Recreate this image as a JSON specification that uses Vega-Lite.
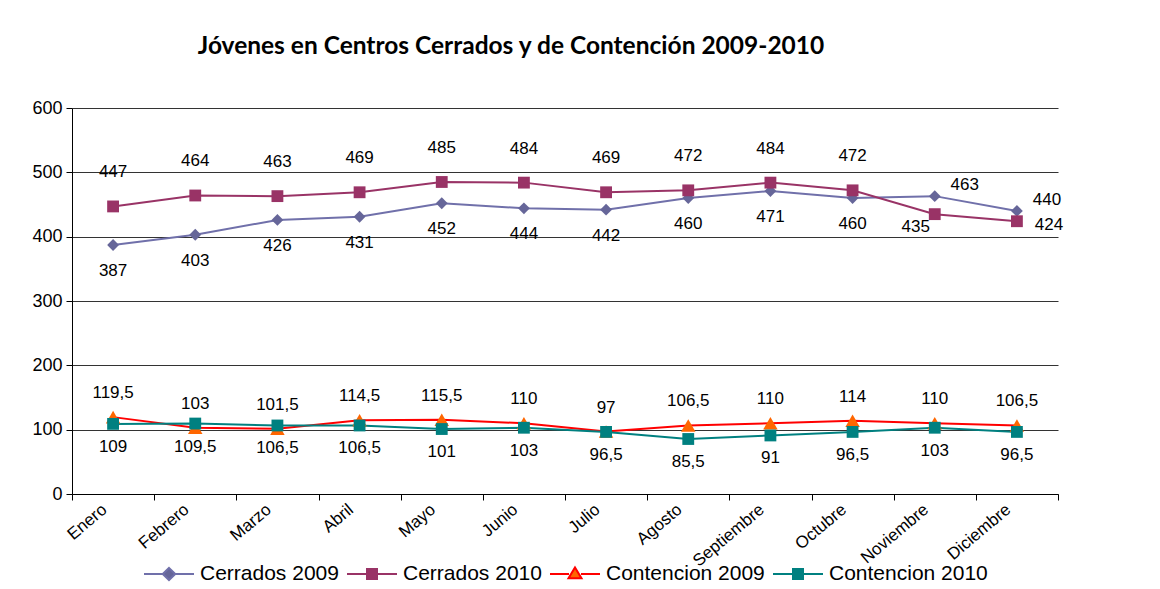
{
  "$schema": "https://vega.github.io/schema/vega-lite/v6.json",
  "width": 986,
  "height": 386,
  "autosize": {"type": "none"},
  "padding": {"left": 72, "top": 108, "right": 102, "bottom": 95},
  "background": "white",
  "title": {"text": "Jóvenes en Centros Cerrados y de Contención 2009-2010", "font": "Lato", "fontSize": 24.5, "fontWeight": "bold", "color": "black", "anchor": "middle", "dx": -54, "offset": 40},
  "data": {"values": [
    {"mes": "Enero", "serie": "Cerrados 2009", "valor": 387},
    {"mes": "Febrero", "serie": "Cerrados 2009", "valor": 403},
    {"mes": "Marzo", "serie": "Cerrados 2009", "valor": 426},
    {"mes": "Abril", "serie": "Cerrados 2009", "valor": 431},
    {"mes": "Mayo", "serie": "Cerrados 2009", "valor": 452},
    {"mes": "Junio", "serie": "Cerrados 2009", "valor": 444},
    {"mes": "Julio", "serie": "Cerrados 2009", "valor": 442},
    {"mes": "Agosto", "serie": "Cerrados 2009", "valor": 460},
    {"mes": "Septiembre", "serie": "Cerrados 2009", "valor": 471},
    {"mes": "Octubre", "serie": "Cerrados 2009", "valor": 460},
    {"mes": "Noviembre", "serie": "Cerrados 2009", "valor": 463},
    {"mes": "Diciembre", "serie": "Cerrados 2009", "valor": 440},
    {"mes": "Enero", "serie": "Cerrados 2010", "valor": 447},
    {"mes": "Febrero", "serie": "Cerrados 2010", "valor": 464},
    {"mes": "Marzo", "serie": "Cerrados 2010", "valor": 463},
    {"mes": "Abril", "serie": "Cerrados 2010", "valor": 469},
    {"mes": "Mayo", "serie": "Cerrados 2010", "valor": 485},
    {"mes": "Junio", "serie": "Cerrados 2010", "valor": 484},
    {"mes": "Julio", "serie": "Cerrados 2010", "valor": 469},
    {"mes": "Agosto", "serie": "Cerrados 2010", "valor": 472},
    {"mes": "Septiembre", "serie": "Cerrados 2010", "valor": 484},
    {"mes": "Octubre", "serie": "Cerrados 2010", "valor": 472},
    {"mes": "Noviembre", "serie": "Cerrados 2010", "valor": 435},
    {"mes": "Diciembre", "serie": "Cerrados 2010", "valor": 424},
    {"mes": "Enero", "serie": "Contencion 2009", "valor": 119.5},
    {"mes": "Febrero", "serie": "Contencion 2009", "valor": 103},
    {"mes": "Marzo", "serie": "Contencion 2009", "valor": 101.5},
    {"mes": "Abril", "serie": "Contencion 2009", "valor": 114.5},
    {"mes": "Mayo", "serie": "Contencion 2009", "valor": 115.5},
    {"mes": "Junio", "serie": "Contencion 2009", "valor": 110},
    {"mes": "Julio", "serie": "Contencion 2009", "valor": 97},
    {"mes": "Agosto", "serie": "Contencion 2009", "valor": 106.5},
    {"mes": "Septiembre", "serie": "Contencion 2009", "valor": 110},
    {"mes": "Octubre", "serie": "Contencion 2009", "valor": 114},
    {"mes": "Noviembre", "serie": "Contencion 2009", "valor": 110},
    {"mes": "Diciembre", "serie": "Contencion 2009", "valor": 106.5},
    {"mes": "Enero", "serie": "Contencion 2010", "valor": 109},
    {"mes": "Febrero", "serie": "Contencion 2010", "valor": 109.5},
    {"mes": "Marzo", "serie": "Contencion 2010", "valor": 106.5},
    {"mes": "Abril", "serie": "Contencion 2010", "valor": 106.5},
    {"mes": "Mayo", "serie": "Contencion 2010", "valor": 101},
    {"mes": "Junio", "serie": "Contencion 2010", "valor": 103},
    {"mes": "Julio", "serie": "Contencion 2010", "valor": 96.5},
    {"mes": "Agosto", "serie": "Contencion 2010", "valor": 85.5},
    {"mes": "Septiembre", "serie": "Contencion 2010", "valor": 91},
    {"mes": "Octubre", "serie": "Contencion 2010", "valor": 96.5},
    {"mes": "Noviembre", "serie": "Contencion 2010", "valor": 103},
    {"mes": "Diciembre", "serie": "Contencion 2010", "valor": 96.5}
  ]},
  "encoding": {
    "x": {
      "field": "mes", "type": "ordinal",
      "sort": ["Enero","Febrero","Marzo","Abril","Mayo","Junio","Julio","Agosto","Septiembre","Octubre","Noviembre","Diciembre"],
      "scale": {"type": "band", "paddingInner": 0, "paddingOuter": 0},
      "axis": {"title": null, "grid": false, "tickBand": "extent", "labelAngle": -40, "labelAlign": "right", "labelBaseline": "top", "labelPadding": 1, "labelOffset": -14, "labelFont": "Liberation Sans", "labelFontSize": 17, "labelColor": "black", "domainColor": "black", "tickColor": "black", "tickSize": 6, "labelOverlap": false}
    },
    "y": {
      "field": "valor", "type": "quantitative",
      "scale": {"domain": [0, 600]},
      "axis": {"title": null, "values": [0,100,200,300,400,500,600], "grid": true, "gridColor": "#333333", "labelFont": "Liberation Sans", "labelFontSize": 18, "labelColor": "black", "domainColor": "black", "tickColor": "black", "tickSize": 6, "labelPadding": 4}
    }
  },
  "layer": [
    {
      "mark": {"type": "line", "strokeWidth": 2},
      "encoding": {
        "color": {"field": "serie", "type": "nominal", "scale": {"domain": ["Cerrados 2009","Cerrados 2010","Contencion 2009","Contencion 2010"], "range": ["#7070AA","#993366","#FF0000","#008080"]}, "legend": null}
      }
    },
    {
      "mark": {"type": "point", "filled": true, "strokeWidth": 0, "opacity": 1},
      "encoding": {
        "fill": {"field": "serie", "type": "nominal", "scale": {"domain": ["Cerrados 2009","Cerrados 2010","Contencion 2009","Contencion 2010"], "range": ["#666699","#993366","#FF6600","#008080"]}, "legend": null},
        "shape": {"condition": [{"test": "datum.serie === 'Cerrados 2009'", "value": "diamond"}, {"test": "datum.serie === 'Contencion 2009'", "value": "triangle-up"}], "value": "square"},
        "size": {"condition": {"test": "datum.serie === 'Contencion 2009'", "value": 210}, "value": 140}
      }
    },
    {
      "mark": {"type": "point", "filled": true, "opacity": 0},
      "encoding": {
        "color": {"field": "serie", "type": "nominal", "legend": null},
        "shape": {
          "field": "serie", "type": "nominal",
          "scale": {"range": ["M-1,0L-0.25,0M0.25,0L1,0M0,-0.24L0.25,0L0,0.24L-0.25,0Z",
                              "M-1,0L-0.2,0M0.2,0L1,0M-0.2,-0.2L0.2,-0.2L0.2,0.2L-0.2,0.2Z",
                              "M-1,0L-0.24,0M0.24,0L1,0M0,-0.26L0.26,0.17L-0.26,0.17Z",
                              "M-1,0L-0.2,0M0.2,0L1,0M-0.2,-0.2L0.2,-0.2L0.2,0.2L-0.2,0.2Z"]},
          "legend": {
            "orient": "none", "legendX": 71, "legendY": 440, "direction": "horizontal", "columns": 4, "title": null,
            "symbolSize": 2500, "symbolOpacity": 1, "symbolStrokeWidth": 2,
            "symbolFillColor": {"expr": "scale('fill', datum.value)"},
            "symbolStrokeColor": {"expr": "scale('color', datum.value)"},
            "labelFont": "Liberation Sans", "labelFontSize": 21, "labelColor": "black", "labelOffset": 5, "columnPadding": 4
          }
        }
      }
    },
    {
      "transform": [{"filter": {"and": [{"field": "serie", "equal": "Cerrados 2010"}, {"not": {"field": "mes", "oneOf": ["Noviembre", "Diciembre"]}}]}}],
      "mark": {"type": "text", "dy": -34, "font": "Liberation Sans", "fontSize": 17, "color": "black"},
      "encoding": {"text": {"field": "valor", "type": "quantitative", "format": "~f"}}
    },
    {
      "transform": [{"filter": {"and": [{"field": "serie", "equal": "Cerrados 2009"}, {"not": {"field": "mes", "oneOf": ["Noviembre", "Diciembre"]}}]}}],
      "mark": {"type": "text", "dy": 26, "font": "Liberation Sans", "fontSize": 17, "color": "black"},
      "encoding": {"text": {"field": "valor", "type": "quantitative", "format": "~f"}}
    },
    {
      "transform": [{"filter": {"and": [{"field": "serie", "equal": "Cerrados 2009"}, {"field": "mes", "oneOf": ["Noviembre", "Diciembre"]}]}}],
      "mark": {"type": "text", "dx": 30, "dy": -11, "font": "Liberation Sans", "fontSize": 17, "color": "black"},
      "encoding": {"text": {"field": "valor", "type": "quantitative", "format": "~f"}}
    },
    {
      "transform": [{"filter": {"and": [{"field": "serie", "equal": "Cerrados 2010"}, {"field": "mes", "equal": "Diciembre"}]}}],
      "mark": {"type": "text", "dx": 32, "dy": 4, "font": "Liberation Sans", "fontSize": 17, "color": "black"},
      "encoding": {"text": {"field": "valor", "type": "quantitative", "format": "~f"}}
    },
    {
      "transform": [{"filter": {"and": [{"field": "serie", "equal": "Cerrados 2010"}, {"field": "mes", "equal": "Noviembre"}]}}],
      "mark": {"type": "text", "dx": -19, "dy": 13, "font": "Liberation Sans", "fontSize": 17, "color": "black"},
      "encoding": {"text": {"field": "valor", "type": "quantitative", "format": "~f"}}
    },
    {
      "transform": [{"filter": {"field": "serie", "equal": "Contencion 2009"}}],
      "mark": {"type": "text", "dy": -24, "font": "Liberation Sans", "fontSize": 17, "color": "black"},
      "encoding": {"text": {"field": "valor", "type": "quantitative", "format": "~f"}}
    },
    {
      "transform": [{"filter": {"field": "serie", "equal": "Contencion 2010"}}],
      "mark": {"type": "text", "dy": 23, "font": "Liberation Sans", "fontSize": 17, "color": "black"},
      "encoding": {"text": {"field": "valor", "type": "quantitative", "format": "~f"}}
    }
  ],
  "config": {
    "view": {"stroke": null},
    "locale": {"number": {"decimal": ",", "thousands": ".", "grouping": [3], "currency": ["", " €"]}}
  }
}
